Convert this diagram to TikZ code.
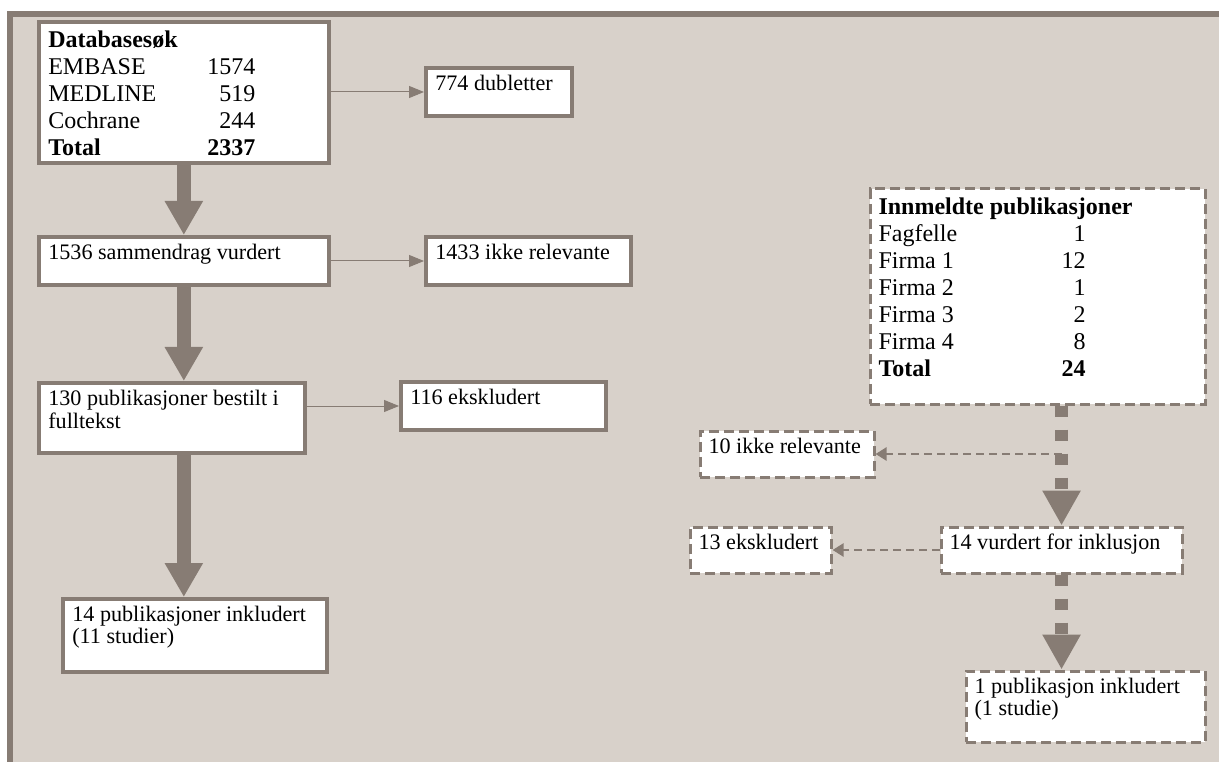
\documentclass[tikz,border=0pt]{standalone}
\usepackage{fontspec}
\setmainfont{Liberation Serif}
\usepackage{array}
\usetikzlibrary{arrows.meta}

\newlength\px
\setlength\px{0.75pt}
\definecolor{taupe}{RGB}{135,124,116}
\definecolor{sand}{RGB}{216,209,202}
\newcolumntype{R}[1]{>{\raggedleft\arraybackslash}p{#1}}
\newcommand{\cell}[3]{\parbox[t][#2\px][t]{#1\px}{\raggedright\strut #3}}
\newcommand{\bigtext}{\fontsize{18}{20.25}\selectfont}
\newcommand{\smalltext}{\fontsize{16.6}{16.5}\selectfont}

\begin{document}
\begin{tikzpicture}[x=0.75pt,y=-0.75pt,
    solidbox/.style={draw=taupe,line width=3pt,fill=white,anchor=north west,inner xsep=7pt,inner ysep=5.25pt,font=\smalltext},
    dashbox/.style={draw=taupe,line width=2.25pt,fill=white,dash pattern=on 7.5pt off 3.75pt,anchor=north west,inner xsep=6.4pt,inner ysep=5.25pt,font=\smalltext},
    bigarrow/.style={draw=taupe,line width=10.5pt,-{Triangle[width=27pt,length=25.5pt]}},
    dasharrow/.style={draw=taupe,line width=9.4pt,dash pattern=on 8.25pt off 9.75pt,-{Triangle[width=27pt,length=26.25pt]}},
    thinarrow/.style={draw=taupe,line width=0.75pt,-{Triangle[width=9pt,length=11.25pt]}},
    dashline/.style={draw=taupe,line width=1.9pt,dash pattern=on 6pt off 3.75pt,-{Triangle[width=9.75pt,length=8.25pt]}}]
\useasboundingbox (0,0) rectangle (1219,762);
\fill[sand] (7,11.5) rectangle (1219,762);
\draw[taupe,line width=4.5pt] (10,762) -- (10,14.5) -- (1219,14.5);

% databasesok
\node[solidbox,font=\bigtext] (db) at (37,20) {\cell{271}{127}{\begin{tabular}[t]{@{}p{150\px}@{}R{57\px}@{}}
    \multicolumn{2}{@{}l@{}}{\rlap{\textbf{Databasesøk}}}\\
    EMBASE & 1574\\
    MEDLINE & 519\\
    Cochrane & 244\\
    \textbf{Total} & \textbf{2337}
\end{tabular}}};
\node[solidbox] (dub) at (424,66) {\cell{127}{34}{774 dubletter}};
\node[solidbox] (abs) at (37,235) {\cell{271}{34}{1536 sammendrag vurdert}};
\node[solidbox] (irr) at (424,235) {\cell{186}{34}{1433 ikke relevante}};
\node[solidbox] (full) at (37,381) {\cell{247}{56}{130 publikasjoner bestilt i\\ fulltekst}};
\node[solidbox] (exc) at (399,380) {\cell{186}{34}{116 ekskludert}};
\node[solidbox] (incl) at (61,597) {\cell{245}{59}{14 publikasjoner inkludert\\ (11 studier)}};

% innmeldte
\node[dashbox,font=\bigtext] (innm) at (868.5,187.5) {\cell{318}{201}{\begin{tabular}[t]{@{}p{150\px}@{}R{57\px}@{}}
    \multicolumn{2}{@{}l@{}}{\rlap{\textbf{Innmeldte publikasjoner}}}\\
    Fagfelle & 1\\
    Firma 1 & 12\\
    Firma 2 & 1\\
    Firma 3 & 2\\
    Firma 4 & 8\\
    \textbf{Total} & \textbf{24}
\end{tabular}}};
\node[dashbox] (irr2) at (698.5,429.5) {\cell{157}{32}{10 ikke relevante}};
\node[dashbox] (exc2) at (688.5,525.5) {\cell{124}{32}{13 ekskludert}};
\node[dashbox] (vur) at (939.5,525.5) {\cell{224}{32}{14 vurdert for inklusjon}};
\node[dashbox] (inc2) at (964.5,669.5) {\cell{222}{57}{1 publikasjon inkludert\\ (1 studie)}};

\draw[bigarrow] (db.south) -- (abs.north);
\draw[bigarrow] (abs.south) -- (abs.south |- full.north);
\draw[bigarrow] (abs.south |- full.south) -- (abs.south |- incl.north);
\draw[thinarrow] (db.east |- dub.west) -- (dub.west);
\draw[thinarrow] (abs.east) -- (irr.west);
\draw[thinarrow] (full.east |- exc.west) -- (exc.west);

\draw[dashline] (vur.north |- irr2.east) -- (irr2.east);
\draw[dashline] (vur.west) -- (exc2.east);
\draw[dasharrow] (vur.north |- innm.south) -- (vur.north);
\draw[dasharrow] (vur.south) -- (vur.south |- inc2.north);
\end{tikzpicture}
\end{document}
